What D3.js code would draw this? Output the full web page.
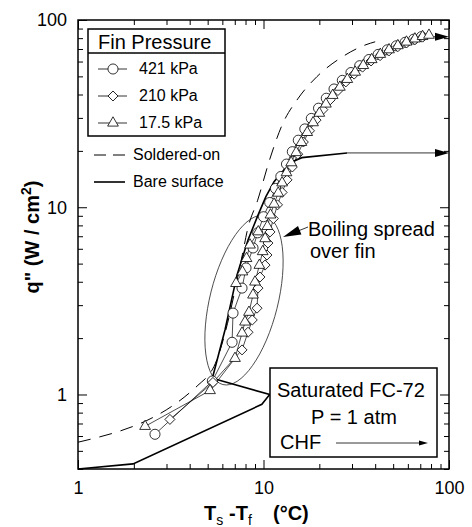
<!DOCTYPE html>
<html>
<head>
<meta charset="utf-8">
<title>fin boiling curve</title>
<script src="https://cdnjs.cloudflare.com/ajax/libs/d3/7.8.5/d3.min.js"></script>
<style>
body{margin:0;background:#fff;}
text{font-family:"Liberation Sans",Arial,Helvetica,sans-serif;fill:#000;}
</style>
</head>
<body>
<script>
// values: [Ts - Tf (°C), q" (W/cm2)]
var p421 = [[2.6,0.613],[5.3,1.18],[6.77,1.90],[6.85,2.72],[7.66,3.70],[8.05,4.74],[8.78,6.06],[9.3,7.3],[10.0,8.9],[10.8,10.6],[11.6,12.6],[12.4,14.6],[13.3,17.0],[14.3,19.8],[15.4,22.8],[16.7,26.2],[18.1,29.8],[19.8,33.8],[21.8,38.2],[24,42.8],[26.6,47.6],[29.6,52.4],[33,57],[37,61.5],[41.5,65.5],[46.5,69.3],[52,72.8],[58,76],[64.5,79],[71,81.5]];
var p210 = [[3.13,0.736],[5.34,1.16],[7.66,1.73],[8.25,2.15],[8.7,2.5],[9.23,2.89],[9.34,3.70],[9.57,4.24],[10.19,4.91],[10.44,5.56],[10.57,6.44],[10.84,7.38],[11.3,8.7],[11.9,10.3],[12.6,12],[13.4,14],[14.3,16.4],[15.3,19.2],[16.4,22.3],[17.7,25.6],[19.2,29.2],[20.9,33.2],[22.9,37.5],[25.2,42],[27.8,46.7],[30.8,51.4],[34.2,56],[38,60.4],[42.5,64.5],[47.5,68.4],[53,72],[59,75.4],[65.5,78.5],[72,81]];
var p17 = [[2.3,0.676],[5.15,1.05],[7.02,1.56],[7.66,2.13],[7.95,2.44],[8.35,2.75],[8.78,3.40],[9.0,3.99],[9.5,4.9],[9.9,5.8],[10.2,6.8],[10.5,7.9],[10.9,9.1],[11.4,10.4],[12.0,11.9],[12.6,13.5],[13.3,15.3],[14.1,17.3],[15.0,19.6],[16.0,22.2],[17.2,25.1],[18.5,28.3],[20,31.8],[21.7,35.6],[23.6,39.6],[25.8,43.8],[28.3,48.2],[31.2,52.7],[34.5,57.2],[38.3,61.5],[42.6,65.6],[47.5,69.4],[53,73],[59,76.3],[65.5,79.3],[72,81.7],[78,83]];
var p17b = [[7.11,3.92],[7.7,4.52],[8.1,5.33],[8.46,6.29],[9.37,7.4]];
var soldered = [[1,0.556],[4.43,1.12],[5.6,1.53],[6.4,2.4],[7.1,3.8],[7.7,5.6],[8.2,7.6],[9.3,10.9],[10.8,18],[12.6,27.5],[15.3,37.9],[19.4,49.8],[26.1,62.8],[35.7,73.8],[40,76.5]];
var bare = [[1,0.4],[1.98,0.426],[9.8,0.886],[10.8,1.0],[5.3,1.22],[6.2,2.21],[7.2,4.35],[8.25,6.69],[9.34,9.08],[10.3,11.4],[11.4,13.7],[13.9,17.3],[16.1,18.4],[28.2,19.5]];
var chfBare = 19.5, chfFin = 81.5;

var xMajor = [1,10,100];
var xMinor = [2,3,4,5,6,7,8,9,20,30,40,50,60,70,80,90];
var yMajor = [1,10,100];
var yMinor = [0.4,0.5,0.6,0.7,0.8,0.9,2,3,4,5,6,7,8,9,20,30,40,50,60,70,80,90];

var width = 472, height = 527;
var margin = {left:78, right:23, top:20, bottom:58};
var svg = d3.select("body").append("svg").attr("width", width).attr("height", height);

var x = d3.scaleLog().domain([1,100]).range([margin.left, width - margin.right]);
var y = d3.scaleLog().domain([0.4,100]).range([height - margin.bottom, margin.top]);
var font = '"Liberation Sans",Arial,Helvetica,sans-serif';

function cleanAxis(g, fs){
	g.select(".domain").remove();
	g.attr("font-family", font).attr("font-size", fs);
	g.selectAll("line").attr("stroke", "#000").attr("stroke-width", 1);
}

// axes, ticks pointing inward on all four sides
var bottom = height - margin.bottom, right = width - margin.right;
svg.append("g").attr("transform","translate(0,"+bottom+")")
	.call(d3.axisBottom(x).tickValues(xMajor).tickSize(-9).tickSizeOuter(0).tickPadding(12).tickFormat(d3.format("d")))
	.call(function(g){cleanAxis(g, 18);});
svg.append("g").attr("transform","translate(0,"+bottom+")")
	.call(d3.axisBottom(x).tickValues(xMinor).tickSize(-5).tickSizeOuter(0).tickFormat(""))
	.call(function(g){cleanAxis(g, 18);});
svg.append("g").attr("transform","translate(0,"+margin.top+")")
	.call(d3.axisTop(x).tickValues(xMajor).tickSize(-9).tickSizeOuter(0).tickFormat(""))
	.call(function(g){cleanAxis(g, 18);});
svg.append("g").attr("transform","translate(0,"+margin.top+")")
	.call(d3.axisTop(x).tickValues(xMinor).tickSize(-5).tickSizeOuter(0).tickFormat(""))
	.call(function(g){cleanAxis(g, 18);});
svg.append("g").attr("transform","translate("+margin.left+",0)")
	.call(d3.axisLeft(y).tickValues(yMajor).tickSize(-9).tickSizeOuter(0).tickPadding(11).tickFormat(d3.format("d")))
	.call(function(g){cleanAxis(g, 18);});
svg.append("g").attr("transform","translate("+margin.left+",0)")
	.call(d3.axisLeft(y).tickValues(yMinor).tickSize(-5).tickSizeOuter(0).tickFormat(""))
	.call(function(g){cleanAxis(g, 18);});
svg.append("g").attr("transform","translate("+right+",0)")
	.call(d3.axisRight(y).tickValues(yMajor).tickSize(-9).tickSizeOuter(0).tickFormat(""))
	.call(function(g){cleanAxis(g, 18);});
svg.append("g").attr("transform","translate("+right+",0)")
	.call(d3.axisRight(y).tickValues(yMinor).tickSize(-5).tickSizeOuter(0).tickFormat(""))
	.call(function(g){cleanAxis(g, 18);});

svg.append("rect").attr("x", margin.left).attr("y", margin.top)
	.attr("width", right - margin.left).attr("height", bottom - margin.top)
	.attr("fill","none").attr("stroke","#000").attr("stroke-width",1.5);

// axis titles
var yl = svg.append("text").attr("transform","translate(39,237) rotate(-90)")
	.attr("text-anchor","middle").attr("font-size",20).attr("font-weight","bold");
yl.append("tspan").text('q" (W / cm');
yl.append("tspan").attr("dy",-8).attr("font-size",14).text("2");
yl.append("tspan").attr("dy",8).text(")");

var xl = svg.append("text").attr("x",204).attr("y",520).attr("font-size",20).attr("font-weight","bold");
xl.append("tspan").text("T");
xl.append("tspan").attr("dy",5).attr("font-size",14).attr("font-weight","normal").text("s");
xl.append("tspan").attr("x",229).attr("dy",-5).text("-T");
xl.append("tspan").attr("dy",5).attr("font-size",14).attr("font-weight","normal").text("f");
xl.append("tspan").attr("x",273).attr("dy",-5).text("(°C)");

// ellipse around the spread of the fin data
var ec = [7.85, 3.19];
svg.append("ellipse").attr("cx",0).attr("cy",0).attr("rx",34).attr("ry",87)
	.attr("transform","translate("+x(ec[0])+","+y(ec[1])+") rotate(14)")
	.attr("fill","none").attr("stroke","#333").attr("stroke-width",0.8);

var line = d3.line().x(function(d){return x(d[0]);}).y(function(d){return y(d[1]);});
var smooth = d3.line().curve(d3.curveMonotoneX).x(function(d){return x(d[0]);}).y(function(d){return y(d[1]);});

svg.append("path").attr("d", smooth(soldered)).attr("fill","none")
	.attr("stroke","#000").attr("stroke-width",1).attr("stroke-dasharray","13,9");
svg.append("path").attr("d", line(bare)).attr("fill","none")
	.attr("stroke","#000").attr("stroke-width",1.6);

function arrowHead(g, tx, ty, len, hw){
	g.append("path").attr("d","M"+tx+","+ty+"L"+(tx-len)+","+(ty-hw)+"L"+(tx-len)+","+(ty+hw)+"Z").attr("fill","#000");
}
// CHF arrows at the right edge
var last = bare[bare.length-1];
svg.append("line").attr("x1",x(last[0])).attr("x2",x(100)-12).attr("y1",y(chfBare)).attr("y2",y(chfBare))
	.attr("stroke","#000").attr("stroke-width",0.8);
arrowHead(svg, x(100), y(chfBare), 14, 4);
var lastFin = p17[p17.length-1];
svg.append("line").attr("x1",x(lastFin[0])+5).attr("x2",x(100)-12).attr("y1",y(chfFin)).attr("y2",y(chfFin))
	.attr("stroke","#000").attr("stroke-width",0.8);
arrowHead(svg, x(100), y(chfFin), 14, 4);

// series
var series = [
	{name:"421 kPa", data:p421, sym:d3.symbolCircle, size:80, rot:0},
	{name:"210 kPa", data:p210, sym:d3.symbolSquare, size:50, rot:45},
	{name:"17.5 kPa", data:p17, sym:d3.symbolTriangle, size:50, rot:0},
	{name:"", data:p17b, sym:d3.symbolTriangle, size:50, rot:0}
];
series.forEach(function(s){
	svg.append("path").attr("d", line(s.data)).attr("fill","none").attr("stroke","#000").attr("stroke-width",0.7);
});
series.forEach(function(s){
	svg.append("g").selectAll("path").data(s.data).enter().append("path")
		.attr("d", d3.symbol().type(s.sym).size(s.size))
		.attr("transform", function(d){return "translate("+x(d[0])+","+y(d[1])+") rotate("+s.rot+")";})
		.attr("fill","#fff").attr("stroke","#000").attr("stroke-width",0.8);
});

// legend
var lg = svg.append("g");
lg.append("rect").attr("x",88).attr("y",29).attr("width",137).attr("height",107)
	.attr("fill","#fff").attr("stroke","#000").attr("stroke-width",1.5);
lg.append("line").attr("x1",88).attr("x2",225).attr("y1",53).attr("y2",53).attr("stroke","#000").attr("stroke-width",1.5);
lg.append("text").attr("x",98).attr("y",49).attr("font-size",20).text("Fin Pressure");
var rowY = [69, 96, 123];
series.slice(0,3).forEach(function(s,i){
	lg.append("line").attr("x1",98).attr("x2",127).attr("y1",rowY[i]).attr("y2",rowY[i]).attr("stroke","#000").attr("stroke-width",0.8);
	lg.append("path").attr("d", d3.symbol().type(s.sym).size(s.size))
		.attr("transform","translate(113,"+rowY[i]+") rotate("+s.rot+")")
		.attr("fill","#fff").attr("stroke","#000").attr("stroke-width",0.8);
	lg.append("text").attr("x",139).attr("y",rowY[i]+5).attr("font-size",16).text(s.name);
});
lg.append("line").attr("x1",94).attr("x2",125).attr("y1",155).attr("y2",155)
	.attr("stroke","#000").attr("stroke-width",1).attr("stroke-dasharray","12,7");
lg.append("text").attr("x",133).attr("y",160).attr("font-size",16).text("Soldered-on");
lg.append("line").attr("x1",94).attr("x2",125).attr("y1",182).attr("y2",182)
	.attr("stroke","#000").attr("stroke-width",1.6);
lg.append("text").attr("x",133).attr("y",187).attr("font-size",16).text("Bare surface");

// "Boiling spread over fin" note
svg.append("text").attr("x",308).attr("y",236).attr("font-size",20).text("Boiling spread");
svg.append("text").attr("x",310).attr("y",258).attr("font-size",20).text("over fin");
svg.append("line").attr("x1",308).attr("y1",227).attr("x2",298).attr("y2",231).attr("stroke","#000").attr("stroke-width",0.8);
svg.append("path").attr("d","M283,237L298,226.1L301.4,234.5Z").attr("fill","#000");

// conditions box
var nb = svg.append("g");
nb.append("rect").attr("x",270).attr("y",368).attr("width",167).attr("height",89)
	.attr("fill","#fff").attr("stroke","#000").attr("stroke-width",1.5);
nb.append("text").attr("x",277).attr("y",397).attr("font-size",20).text("Saturated FC-72");
nb.append("text").attr("x",354).attr("y",424).attr("text-anchor","middle").attr("font-size",20).text("P = 1 atm");
nb.append("text").attr("x",280).attr("y",449).attr("font-size",20).text("CHF");
nb.append("line").attr("x1",336).attr("x2",420).attr("y1",443).attr("y2",443).attr("stroke","#000").attr("stroke-width",0.8);
arrowHead(nb, 428, 443, 9, 2.5);
</script>
</body>
</html>
